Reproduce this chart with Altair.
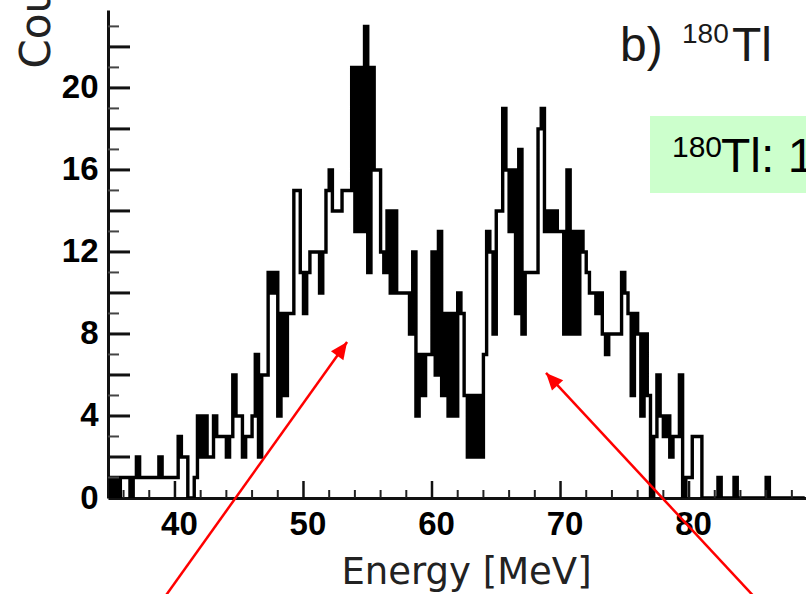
import altair as alt
import numpy as np
import pandas as pd

# ---------------- data ----------------
# Histogram counts, 0.25 MeV bins, first bin starts at 34.75 MeV
bin_start = 34.75
bin_width = 0.25
counts = (
    [1]
    + [0, 1, 0, 1]        # 35
    + [1, 1, 0, 1]        # 36
    + [2, 1, 1, 1]        # 37
    + [1, 1, 1, 2]        # 38
    + [1, 1, 1, 1]        # 39
    + [1, 3, 2, 2]        # 40
    + [0, 0, 1, 4]        # 41
    + [2, 4, 2, 2]        # 42
    + [4, 3, 3, 3]        # 43
    + [2, 3, 6, 4]        # 44
    + [4, 2, 3, 3]        # 45
    + [4, 7, 2, 6]        # 46
    + [6, 11, 10, 11]     # 47
    + [4, 9, 5, 9]        # 48
    + [9, 15, 15, 11]     # 49
    + [9, 11, 12, 12]     # 50
    + [12, 10, 12, 15]    # 51
    + [16, 14, 14, 14]    # 52
    + [15, 15, 15, 21]    # 53
    + [13, 21, 13, 23]    # 54
    + [11, 21, 16, 16]    # 55
    + [12, 11, 14, 10]    # 56
    + [14, 10, 10, 10]    # 57
    + [10, 8, 12, 4]      # 58
    + [7, 5, 7, 7]        # 59
    + [12, 6, 13, 5]      # 60
    + [9, 4, 9, 4]        # 61
    + [10, 9, 5, 2]       # 62
    + [5, 2, 5, 2]        # 63
    + [7, 13, 12, 8]      # 64
    + [14, 14, 19, 16]    # 65
    + [13, 16, 9, 17]     # 66
    + [8, 11, 11, 11]     # 67
    + [11, 18, 19, 13]    # 68
    + [14, 13, 14, 13]    # 69
    + [13, 8, 16, 8]      # 70
    + [13, 8, 13, 12]     # 71
    + [11, 10, 10, 9]     # 72
    + [10, 8, 7, 8]       # 73
    + [8, 8, 8, 11]       # 74
    + [10, 9, 5, 9]       # 75
    + [8, 4, 8, 5]        # 76
    + [0, 3, 6, 4]        # 77
    + [3, 4, 2, 3]        # 78
    + [3, 6, 0, 1]        # 79
    + [1, 3, 3, 3]        # 80
    + [0, 0, 0, 0]        # 81
    + [0, 1, 0, 0]        # 82
    + [0, 0, 1, 0]        # 83
    + [0, 0, 0, 0]        # 84
    + [0, 0, 0, 0]        # 85
    + [1, 0, 0, 0]        # 86
    + [0, 0, 0, 0]        # 87
    + [0, 0, 0, 0]        # 88
)

x_major = [40, 50, 60, 70, 80]
x_minor = [36, 38, 42, 44, 46, 48, 52, 54, 56, 58, 62, 64, 66, 68,
           72, 74, 76, 78, 82, 84, 86, 88]
y_labels = [0, 4, 8, 12, 16, 20]
y_major = [2, 4, 6, 8, 10, 12, 14, 16, 18, 20, 22]
y_minor = [1, 3, 5, 7, 9, 11, 13, 15, 17, 19, 21, 23]

# red arrows: (id, energy, counts) start and tip
arrow_id = ["a", "a", "b", "b"]
arrow_e = [38.99, 53.39, 85.37, 68.87]
arrow_c = [-5.02, 7.61, -5.02, 6.10]
head_e = [53.39, 68.87]
head_c = [7.61, 6.10]
head_angle = [35.5, 317.1]

# ---------------- chart ----------------
W, H = 698, 488
edges = bin_start + bin_width * np.arange(len(counts) + 1)
hist_df = pd.DataFrame({"E": edges, "c": counts + [counts[-1]]})

xscale = alt.Scale(domain=[34.79, 89.1], nice=False, zero=False)
yscale = alt.Scale(domain=[0, 23.8], nice=False, zero=False)

xaxis = alt.Axis(
    values=x_major, format="d", ticks=False, tickSize=0, grid=False,
    domainColor="#111111", domainWidth=3,
    labelFont="Liberation Sans", labelFontWeight="bold", labelFontSize=33,
    labelColor="#000000", labelPadding=10, labelOffset=4,
    title="Energy [MeV]", titleFont="DejaVu Sans", titleFontSize=37,
    titleFontWeight="normal", titleColor="#222222",
    titleX=358, titleY=85, titleAlign="center", titleBaseline="alphabetic",
)
yaxis = alt.Axis(
    values=y_labels, format="d", ticks=False, tickSize=0, grid=False,
    domainColor="#111111", domainWidth=3,
    labelFont="Liberation Sans", labelFontWeight="bold", labelFontSize=33,
    labelColor="#000000", labelPadding=10,
    title="Counts", titleFont="DejaVu Sans", titleFontSize=42,
    titleFontWeight="normal", titleColor="#222222",
    titleAngle=270, titleAlign="left", titleBaseline="alphabetic",
    titleX=-59, titleY=58,
)


def X(field="E"):
    return alt.X(f"{field}:Q", scale=xscale, axis=xaxis, title="Energy [MeV]")


def Y(field="c"):
    return alt.Y(f"{field}:Q", scale=yscale, axis=yaxis, title="Counts")


one = pd.DataFrame({"k": [0]})

box = alt.Chart(one).mark_rect(color="#ccffcc").encode(
    x=alt.value(542), x2=alt.value(900), y=alt.value(106), y2=alt.value(183)
)

hist = alt.Chart(hist_df).mark_line(
    interpolate="step-after", color="black", strokeWidth=3.4, clip=True
).encode(x=X(), y=Y())

xmaj = alt.Chart(pd.DataFrame({"E": x_major})).mark_rule(
    color="#111111", strokeWidth=2.5
).encode(x=X(), y=alt.value(H), y2=alt.value(H - 17))
xmin = alt.Chart(pd.DataFrame({"E": x_minor})).mark_rule(
    color="#222222", strokeWidth=2
).encode(x=X(), y=alt.value(H), y2=alt.value(H - 8))
ymaj = alt.Chart(pd.DataFrame({"c": y_major})).mark_rule(
    color="#111111", strokeWidth=3
).encode(y=Y(), x=alt.value(0), x2=alt.value(22))
ymin = alt.Chart(pd.DataFrame({"c": y_minor})).mark_rule(
    color="#444444", strokeWidth=2
).encode(y=Y(), x=alt.value(0), x2=alt.value(11))

arrows = alt.Chart(pd.DataFrame({"id": arrow_id, "E": arrow_e, "c": arrow_c})).mark_line(
    color="#ff0000", strokeWidth=2.5, clip=False
).encode(x=X(), y=Y(), detail="id:N")
heads = alt.Chart(pd.DataFrame({"E": head_e, "c": head_c, "a": head_angle})).mark_point(
    shape="M0,0L-0.45,1L0.45,1Z", filled=True, color="#ff0000", opacity=1,
    size=1156, strokeWidth=0, clip=False,
).encode(x=X(), y=Y(), angle=alt.Angle("a:Q", scale=None))


def label(text, x, y, size, font="Liberation Sans", color="#1a1a1a"):
    return alt.Chart(one).mark_text(
        text=text, align="left", baseline="alphabetic", font=font,
        fontSize=size, color=color,
    ).encode(x=alt.value(x), y=alt.value(y))


texts = [
    label("b)", 512, 51, 48),
    label("180", 574, 33, 28),
    label("Tl", 624, 51, 48),
    label("180", 564, 147, 30, color="#000000"),
    label("Tl: 1", 613, 162, 48, color="#000000"),
]

chart = alt.layer(
    box, hist, xmin, xmaj, ymin, ymaj, arrows, heads, *texts
).properties(
    width=W, height=H,
    autosize=alt.AutoSizeParams(type="none"),
    padding={"left": 108, "top": 10, "right": 0, "bottom": 96},
).configure_view(stroke=None)

chart.save("out.html", embed_options={"renderer": "svg", "actions": False})
